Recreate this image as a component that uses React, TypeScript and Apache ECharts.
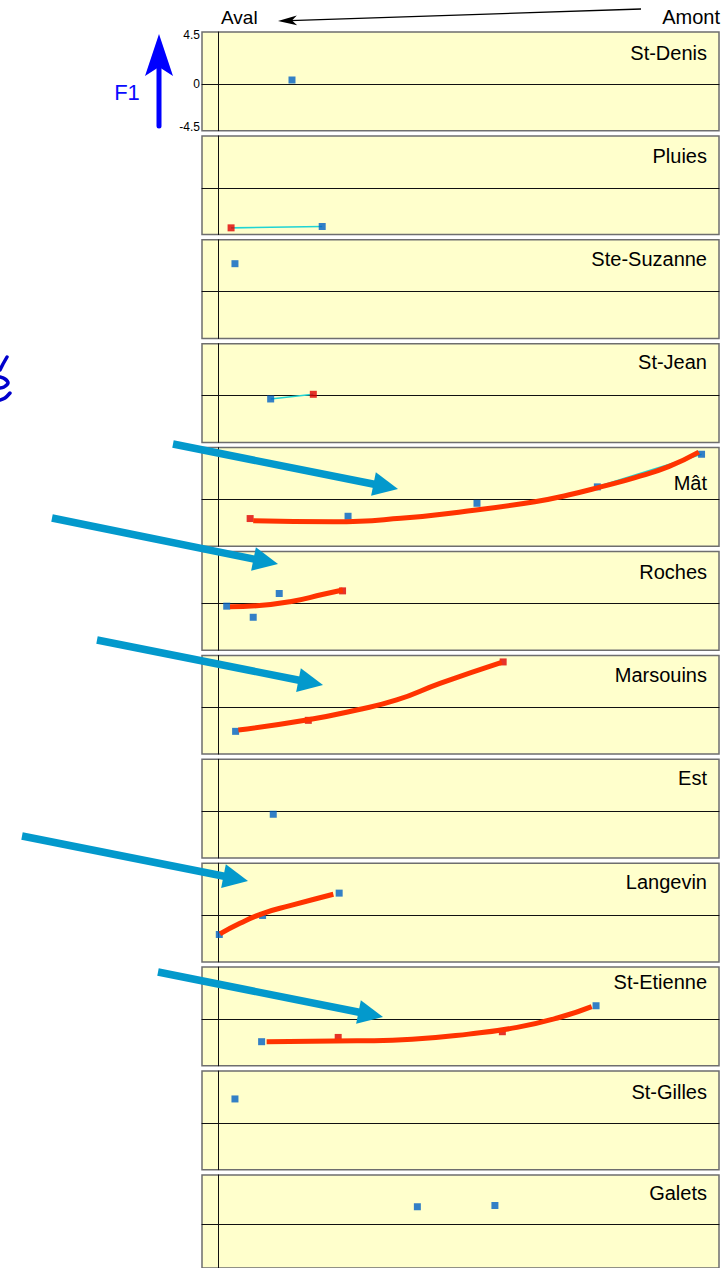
import React, { useEffect, useRef } from 'react';
import * as echarts from 'echarts';

// ---------- data ----------
const stations = ['St-Denis', 'Pluies', 'Ste-Suzanne', 'St-Jean', 'Mât', 'Roches', 'Marsouins', 'Est', 'Langevin', 'St-Etienne', 'St-Gilles', 'Galets'];

// points: [distance, F1, kind]  kind: 'b' = blue, 'r' = red
const stDenisPts = [[4.57, 0.38, 'b']];
const pluiesPts = [[0.8, -3.85, 'r'], [6.44, -3.72, 'b']];
const steSuzannePts = [[1.04, 2.7, 'b']];
const stJeanPts = [[3.25, -0.32, 'b'], [5.89, 0.13, 'r']];
const matPts = [[1.98, -1.83, 'r'], [8.04, -1.61, 'b'], [16.02, -0.36, 'b'], [23.47, 1.22, 'b'], [29.92, 4.36, 'b']];
const rochesPts = [[0.53, -0.26, 'b'], [2.17, -1.33, 'b'], [3.78, 0.96, 'b'], [7.7, 1.21, 'r']];
const marsouinsPts = [[1.08, -2.31, 'b'], [5.58, -1.25, 'r'], [17.64, 4.37, 'r']];
const estPts = [[3.41, -0.29, 'b']];
const langevinPts = [[0.07, -1.86, 'b'], [2.75, -0.03, 'b'], [7.49, 2.12, 'b']];
const stEtiennePts = [[2.69, -2.18, 'b'], [7.43, -1.77, 'r'], [17.59, -1.22, 'r'], [23.39, 1.28, 'b']];
const stGillesPts = [[1.04, 2.31, 'b']];
const galetsPts = [[12.33, 1.75, 'b'], [17.13, 1.88, 'b']];

const allPts = [stDenisPts, pluiesPts, steSuzannePts, stJeanPts, matPts, rochesPts, marsouinsPts, estPts, langevinPts, stEtiennePts, stGillesPts, galetsPts];

// trend curves
const matCurve = [[2.17, -2.04], [7.13, -2.14], [11.3, -1.81], [15.45, -1.1], [19.6, -0.21], [21.67, 0.44], [23.74, 1.24], [25.81, 2.11], [27.88, 3.17], [29.75, 4.56]];
const rochesCurve = [[0.73, -0.31], [2.38, -0.22], [4.45, 0.17], [6.51, 0.88], [7.71, 1.29]];
const marsouinsCurve = [[1.25, -2.18], [5.48, -1.22], [8.58, -0.25], [11.05, 0.71], [13.73, 2.31], [17.55, 4.34]];
const langevinCurve = [[0.11, -1.81], [1.35, -0.78], [2.79, 0.18], [4.45, 0.91], [7.13, 2.01]];
const stEtienneCurve = [[3.0, -2.18], [8.6, -2.1], [12.0, -1.95], [15.5, -1.45], [18.5, -0.8], [21.0, 0.1], [23.12, 1.2]];

const curves: Record<number, number[][]> = { 4: matCurve, 5: rochesCurve, 6: marsouinsCurve, 8: langevinCurve, 9: stEtienneCurve };

// thin links between points
const links: Record<number, number[][]> = {
  1: pluiesPts.map((p) => [p[0] as number, p[1] as number]),
  3: stJeanPts.map((p) => [p[0] as number, p[1] as number]),
  4: matPts.slice(3).map((p) => [p[0] as number, p[1] as number]),
};

const yTickLabels = ['4.5', '0', '-4.5'];

// ---------- layout ----------
const W = 726;
const H = 1268;
const GRID_LEFT = 202;
const GRID_W = 517;
const GRID_TOP0 = 32;
const GRID_STEP = 103.9;
const GRID_H = 98.7;
const X_MIN = -1;
const X_MAX = 31;
const Y_MIN = -4.5;
const Y_MAX = 5;
const titleCenterY = [53, 156, 259, 362, 483, 572, 675, 778, 882, 982, 1092, 1193];
const tickLabelY = [35, 84, 127];

const BLUE = '#0060c4';
const RED = '#e00000';
const CURVE = '#ff3300';
const CYAN = '#1fd4d4';
const ARROW = '#0399cc';
const FONT = '"Liberation Sans", Arial, sans-serif';

const blueArrows = [
  [[173, 444], [398, 489]],
  [[52, 518], [278, 564]],
  [[97, 640], [323, 685]],
  [[22, 836], [248, 881]],
  [[158, 972], [383, 1017]],
];

function arrowElems(tail: number[], tip: number[]) {
  const dx = tip[0] - tail[0];
  const dy = tip[1] - tail[1];
  const len = Math.hypot(dx, dy);
  const ux = dx / len, uy = dy / len;
  const nx = -uy, ny = ux;
  const L = 25, hw = 12;
  const bx = tip[0] - L * ux, by = tip[1] - L * uy;
  return [
    {
      type: 'line', z: 100,
      shape: { x1: tail[0], y1: tail[1], x2: bx + 2 * ux, y2: by + 2 * uy },
      style: { stroke: ARROW, lineWidth: 7.5, lineCap: 'butt' },
    },
    {
      type: 'polygon', z: 100,
      shape: { points: [[tip[0], tip[1]], [bx + hw * nx, by + hw * ny], [bx - hw * nx, by - hw * ny]] },
      style: { fill: ARROW },
    },
  ];
}

function txt(text: string, x: number, y: number, size: number, align: string, color = '#000') {
  return {
    type: 'text', z: 90, x, y,
    style: {
      text, fill: color, fontSize: size, fontFamily: FONT,
      align, verticalAlign: 'middle', textAlign: align, textVerticalAlign: 'middle',
    },
  };
}

export default function App() {
  const ref = useRef<HTMLDivElement>(null);
  useEffect(() => {
    const chart = echarts.init(ref.current!, null, { renderer: 'svg' });
    const grid: any[] = [];
    const xAxis: any[] = [];
    const yAxis: any[] = [];
    const series: any[] = [];
    stations.forEach((name, i) => {
      grid.push({
        left: GRID_LEFT, top: GRID_TOP0 + GRID_STEP * i, width: GRID_W, height: GRID_H,
        show: true, backgroundColor: '#ffffcc', borderColor: '#6e6e6e', borderWidth: 1.5,
      });
      const axisCommon = {
        gridIndex: i, type: 'value',
        axisLine: { show: true, onZero: true, lineStyle: { color: '#111', width: 1 } },
        axisTick: { show: false }, axisLabel: { show: false }, splitLine: { show: false },
      };
      xAxis.push({ ...axisCommon, min: X_MIN, max: X_MAX });
      yAxis.push({ ...axisCommon, min: Y_MIN, max: Y_MAX });
      if (links[i]) {
        series.push({
          type: 'line', xAxisIndex: i, yAxisIndex: i, data: links[i], symbol: 'none',
          lineStyle: { color: CYAN, width: 1.6 }, z: 2, silent: true,
        });
      }
      series.push({
        type: 'scatter', name, xAxisIndex: i, yAxisIndex: i, symbol: 'rect', symbolSize: 7, z: 3,
        data: allPts[i].map((p) => ({ value: [p[0], p[1]], itemStyle: { color: p[2] === 'r' ? RED : BLUE } })),
      });
      if (curves[i]) {
        series.push({
          type: 'line', xAxisIndex: i, yAxisIndex: i, data: curves[i], symbol: 'none', smooth: 0.5,
          lineStyle: { color: CURVE, width: 5 }, z: 4, silent: true,
        });
      }
    });

    const graphic: any[] = [];
    stations.forEach((name, i) => graphic.push(txt(name, 707, titleCenterY[i], 20, 'right')));
    yTickLabels.forEach((t, k) => graphic.push(txt(t, 200, tickLabelY[k], 12, 'right')));
    graphic.push(txt('Aval', 221, 17, 19, 'left'));
    graphic.push(txt('Amont', 720, 17, 20, 'right'));
    // Aval <- Amont arrow
    {
      const tail = [641, 9], tip = [278, 21];
      const dx = tip[0] - tail[0], dy = tip[1] - tail[1];
      const len = Math.hypot(dx, dy);
      const ux = dx / len, uy = dy / len, nx = -uy, ny = ux;
      graphic.push({ type: 'line', z: 100, shape: { x1: tail[0], y1: tail[1], x2: tip[0] - 12 * ux, y2: tip[1] - 12 * uy }, style: { stroke: '#000', lineWidth: 1.3 } });
      graphic.push({
        type: 'polygon', z: 100,
        shape: { points: [[tip[0], tip[1]], [tip[0] - 19 * ux + 5 * nx, tip[1] - 19 * uy + 5 * ny], [tip[0] - 14 * ux, tip[1] - 14 * uy], [tip[0] - 19 * ux - 5 * nx, tip[1] - 19 * uy - 5 * ny]] },
        style: { fill: '#000' },
      });
    }
    // F1 arrow
    graphic.push({ type: 'line', z: 100, shape: { x1: 159, y1: 126, x2: 159, y2: 62 }, style: { stroke: '#0000ff', lineWidth: 5, lineCap: 'round' } });
    graphic.push({ type: 'polygon', z: 100, shape: { points: [[159, 34], [173, 76], [159, 67], [145, 76]] }, style: { fill: '#0000ff' } });
    graphic.push(txt('F1', 127, 92, 22, 'center', '#0a0aff'));
    // squiggle
    const sq = { stroke: '#0000cc', lineWidth: 3.5, lineCap: 'round', lineJoin: 'round', fill: null };
    graphic.push({ type: 'polyline', z: 100, shape: { points: [[7, 357], [3, 364], [0, 370]] }, style: sq });
    graphic.push({ type: 'polyline', z: 100, shape: { points: [[0, 377], [5, 379], [8, 383], [4, 387], [0, 388]], smooth: 0.4 }, style: sq });
    graphic.push({ type: 'polyline', z: 100, shape: { points: [[10, 393], [5, 398], [0, 400]], smooth: 0.3 }, style: sq });
    // blue arrows
    blueArrows.forEach(([a, b]) => graphic.push(...arrowElems(a, b)));

    chart.setOption({ animation: false, grid, xAxis, yAxis, series, graphic });
    return () => chart.dispose();
  }, []);
  return <div ref={ref} style={{ position: 'absolute', left: 0, top: 0, width: W, height: H }} />;
}
